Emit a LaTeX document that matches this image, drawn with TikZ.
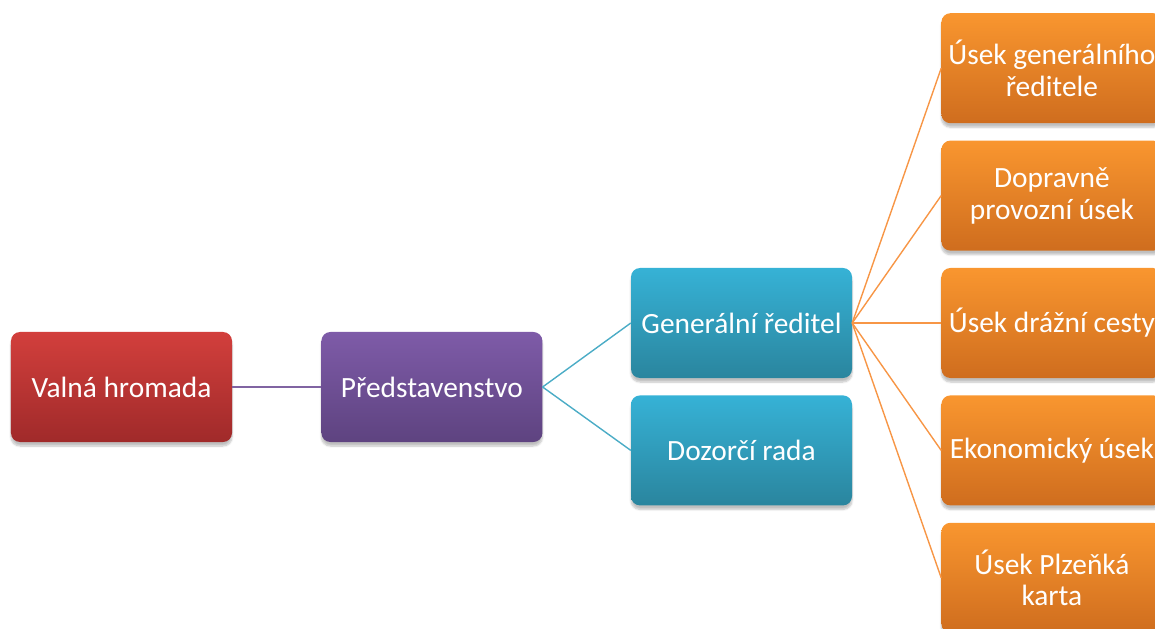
\documentclass[tikz,border=0pt]{standalone}
\usepackage{fontspec}
\setmainfont{Carlito}
\usepackage{xcolor}
\usetikzlibrary{positioning,shadows.blur}
\definecolor{redtop}{HTML}{D23F3C}
\definecolor{redbot}{HTML}{A02A2A}
\definecolor{purtop}{HTML}{7E5BA8}
\definecolor{purbot}{HTML}{5E4380}
\definecolor{blutop}{HTML}{36B2D6}
\definecolor{blubot}{HTML}{2A859E}
\definecolor{orgtop}{HTML}{F9962F}
\definecolor{orgbot}{HTML}{CF6D1E}
\definecolor{purline}{HTML}{8064A2}
\definecolor{bluline}{HTML}{4BACC6}
\definecolor{orgline}{HTML}{F79646}

\begin{document}
\begin{tikzpicture}[
  x=1bp, y=-1bp,
  node distance=17bp and 89bp,
  unit/.style={rectangle, rounded corners=9bp, align=center, text=white,
              minimum width=221bp, minimum height=110bp, inner xsep=0pt, inner ysep=2pt,
              font=\fontsize{29.5}{32}\selectfont,
              blur shadow={shadow xshift=0bp, shadow yshift=-4bp, shadow blur steps=6, shadow opacity=25}},
  red/.style={unit, top color=redtop, bottom color=redbot},
  purple/.style={unit, top color=purtop, bottom color=purbot},
  blue/.style={unit, top color=blutop, bottom color=blubot},
  orange/.style={unit, top color=orgtop, bottom color=orgbot},
  link/.style={line width=1.4bp}
]
\useasboundingbox (0,0) rectangle (1155,629);
\node[red] (valna) at (121.5,387) {Valná hromada};
\node[purple, right=of valna] (pred) {Představenstvo};
\node[blue] (gen) at (741.5,323) {Generální ředitel};
\node[blue, below=of gen] (dozor) {Dozorčí rada};
\node[orange, right=of gen] (draha) {Úsek drážní cesty};
\node[orange, above=of draha] (doprava) {Dopravně\\provozní úsek};
\node[orange, above=of doprava] (gensek) {Úsek generálního\\ředitele};
\node[orange, below=of draha] (ekon) {Ekonomický úsek};
\node[orange, below=of ekon] (karta) {Úsek Plzeňká\\karta};
\draw[link, purline] (valna) -- (pred);
\draw[link, bluline] (pred.east) -- (gen.west); \draw[link, bluline] (pred.east) -- (dozor.west);
\foreach \n in {gensek,doprava,draha,ekon,karta}
  \draw[link, orgline] (gen.east) -- (\n.west);
\end{tikzpicture}
\end{document}
